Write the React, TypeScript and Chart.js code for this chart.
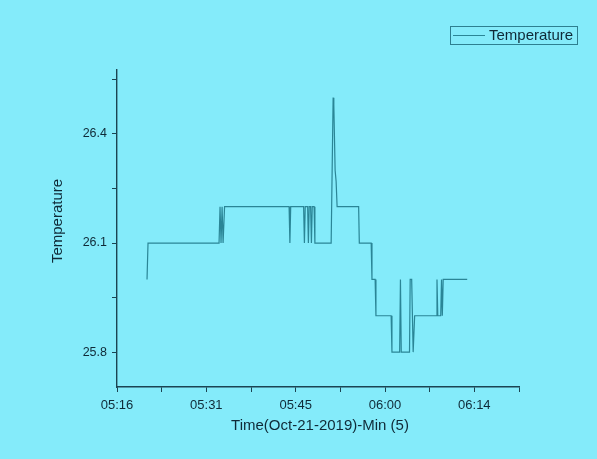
import React, { useEffect, useRef } from "react";
import { Chart, registerables } from "chart.js";

Chart.register(...registerables);

// Minutes after the first axis tick (05:16)
const times = [
  4.84, 5.0, 16.45, 16.61, 16.77, 16.94, 17.1, 17.34,
  27.74, 27.87, 28.0,
  30.08, 30.21, 30.34, 30.73, 30.85, 30.98, 31.21, 31.34, 31.47,
  31.77, 31.9, 34.52, 34.84, 34.95, 35.16, 35.32, 35.48,
  38.95, 39.06, 40.97, 41.1, 41.61, 41.74, 44.19, 44.32,
  45.56, 45.69, 45.82, 47.15, 47.26, 47.5, 47.74, 47.98,
  51.45, 51.58, 51.71, 52.18, 52.31, 52.44, 52.58, 56.45,
];
const temps = [
  26.0, 26.1, 26.1, 26.2, 26.1, 26.2, 26.1, 26.2,
  26.2, 26.1, 26.2,
  26.2, 26.1, 26.2, 26.2, 26.1, 26.2, 26.2, 26.1, 26.2,
  26.2, 26.1, 26.1, 26.5, 26.48, 26.3, 26.27, 26.2,
  26.2, 26.1, 26.1, 26.0, 26.0, 25.9, 25.9, 25.8,
  25.8, 26.0, 25.8, 25.8, 26.0, 26.0, 25.8, 25.9,
  25.9, 26.0, 25.9, 25.9, 26.0, 25.9, 26.0, 26.0,
];

const xTickLabels = ["05:16", "05:31", "05:45", "06:00", "06:14"];
const xTickValues = [0, 7.2, 14.4, 21.6, 28.8, 36, 43.2, 50.4, 57.6, 64.8];
const yTickValues = [25.8, 25.95, 26.1, 26.25, 26.4, 26.55];
const yTickLabels = ["25.8", "", "26.1", "", "26.4", ""];

const seriesName = "Temperature";
const xTitle = "Time(Oct-21-2019)-Min (5)";
const yTitle = "Temperature";

const BG = "#84ebfa";
const AXIS = "#1b4452";
const TEXT = "#0f2a37";
const LINE = "#2a8596";
const FONT = "'Liberation Sans', Arial, sans-serif";

export default function App() {
  const ref = useRef<HTMLCanvasElement | null>(null);

  useEffect(() => {
    document.body.style.margin = "0";
    document.body.style.background = BG;
    const canvas = ref.current;
    if (!canvas) return;

    const decor = {
      id: "decor",
      beforeDraw(chart: any) {
        const c = chart.ctx;
        c.save();
        c.fillStyle = BG;
        c.fillRect(0, 0, chart.width, chart.height);
        c.restore();
      },
      afterDraw(chart: any) {
        const c = chart.ctx;
        c.save();
        c.fillStyle = TEXT;
        c.font = `15px ${FONT}`;
        c.textAlign = "center";
        c.textBaseline = "middle";
        c.fillText(xTitle, 320, 426);
        c.save();
        c.translate(58, 221);
        c.rotate(-Math.PI / 2);
        c.fillText(yTitle, 0, 0);
        c.restore();
        // legend
        c.strokeStyle = "#2d7f90";
        c.lineWidth = 1;
        c.strokeRect(450.5, 26.5, 127, 18);
        c.strokeStyle = LINE;
        c.beginPath();
        c.moveTo(453, 35.5);
        c.lineTo(485, 35.5);
        c.stroke();
        c.textAlign = "left";
        c.font = `15px ${FONT}`;
        c.fillText(seriesName, 489, 36);
        c.restore();
      },
    };

    const chart = new Chart(canvas, {
      type: "line",
      data: {
        datasets: [
          {
            label: seriesName,
            data: times.map((t, i) => ({ x: t, y: temps[i] })),
            borderColor: LINE,
            borderWidth: 1.2,
            pointRadius: 0,
            fill: false,
            tension: 0,
          },
        ],
      },
      options: {
        animation: false,
        responsive: false,
        layout: { padding: { top: 70, right: 78, left: 0, bottom: 0 } },
        plugins: {
          legend: { display: false },
          tooltip: { enabled: false },
          title: { display: false },
        },
        scales: {
          x: {
            type: "linear",
            min: 0,
            max: 64.8,
            afterFit: (s: any) => {
              s.height = 72;
            },
            afterBuildTicks: (s: any) => {
              s.ticks = xTickValues.map((v) => ({ value: v }));
            },
            grid: {
              drawOnChartArea: false,
              drawTicks: true,
              tickLength: 5,
              color: AXIS,
            },
            border: { display: true, color: AXIS, width: 1.4 },
            ticks: {
              autoSkip: false,
              maxRotation: 0,
              padding: 6,
              color: TEXT,
              font: { family: FONT, size: 13 },
              callback: (_v: any, i: number) => (i % 2 === 0 ? xTickLabels[i / 2] : ""),
            },
          },
          y: {
            type: "linear",
            min: 25.704,
            max: 26.576,
            afterFit: (s: any) => {
              s.width = 117;
            },
            afterBuildTicks: (s: any) => {
              s.ticks = yTickValues.map((v) => ({ value: v }));
            },
            grid: {
              drawOnChartArea: false,
              drawTicks: true,
              tickLength: 5,
              color: AXIS,
            },
            border: { display: true, color: AXIS, width: 1.4 },
            ticks: {
              autoSkip: false,
              padding: 5,
              color: TEXT,
              font: { family: FONT, size: 12.5 },
              callback: (_v: any, i: number) => yTickLabels[i],
            },
          },
        },
      },
      plugins: [decor],
    });

    return () => chart.destroy();
  }, []);

  return (
    <canvas
      ref={ref}
      width={597}
      height={459}
      style={{ display: "block", width: 597, height: 459 }}
    />
  );
}
